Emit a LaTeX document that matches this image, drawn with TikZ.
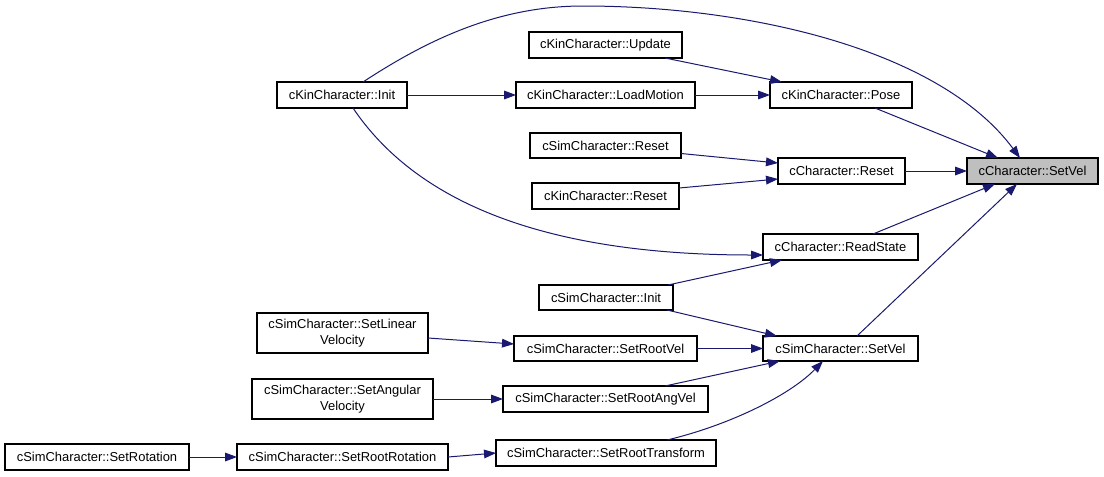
\documentclass[tikz,border=0pt]{standalone}
\usepackage{fontspec}
\setmainfont{Liberation Sans}
\usetikzlibrary{arrows.meta,calc}
\definecolor{edgeblue}{HTML}{191970}
\definecolor{hilite}{HTML}{BFBFBF}
\newcommand\mkbox[7][]{%
  \pgfmathsetmacro\bw{(#4-#2)*0.75}%
  \pgfmathsetmacro\bh{(#5-#3)*0.75}%
  \node[fn,#1,minimum width=\bw pt,minimum height=\bh pt] (#6) at ({(#2+#4)/2},{(#3+#5)/2}) {#7};}
\begin{document}
\begin{tikzpicture}[x=0.75pt,y=-0.75pt,
  fn/.style={draw=black,line width=0.8pt,fill=white,inner sep=0pt,outer sep=0pt,
    align=center,font=\fontsize{9.7}{11.5}\selectfont},
  call/.style={draw=edgeblue,line width=0.75pt,
    -{Triangle[length=9pt,width=6.5pt,fill=edgeblue]}}]
\useasboundingbox (0,0) rectangle (1104,476);
\fill[white] (0,0) rectangle (1104,476);
% nodes
\mkbox[fill=hilite]{967}{158}{1098}{184}{sv}{cCharacter::SetVel}
\mkbox{277}{82}{407}{108}{kinit}{cKinCharacter::Init}
\mkbox{529}{32}{682}{58}{upd}{cKinCharacter::Update}
\mkbox{516}{82}{695}{108}{lm}{cKinCharacter::LoadMotion}
\mkbox{770}{82}{912}{108}{pose}{cKinCharacter::Pose}
\mkbox{530}{133}{681}{158}{sreset}{cSimCharacter::Reset}
\mkbox{532}{183}{679}{209}{kreset}{cKinCharacter::Reset}
\mkbox{778}{158}{905}{184}{creset}{cCharacter::Reset}
\mkbox{763}{234}{918}{260}{rs}{cCharacter::ReadState}
\mkbox{539}{285}{673}{310}{sinit}{cSimCharacter::Init}
\mkbox{257}{313}{428}{353}{slv}{cSimCharacter::SetLinear\\Velocity}
\mkbox{514}{336}{697}{361}{srv}{cSimCharacter::SetRootVel}
\mkbox{763}{336}{918}{361}{ssv}{cSimCharacter::SetVel}
\mkbox{252}{379}{433}{419}{sav}{cSimCharacter::SetAngular\\Velocity}
\mkbox{503}{386}{708}{412}{srav}{cSimCharacter::SetRootAngVel}
\mkbox{5}{444}{189}{470}{srot}{cSimCharacter::SetRotation}
\mkbox{237}{444}{448}{470}{srr}{cSimCharacter::SetRootRotation}
\mkbox{496}{440}{716}{466}{srt}{cSimCharacter::SetRootTransform}
% edges
\draw[call] ($(kinit.north)+(21,0)$) .. controls +(67,-44) and +(-83,0) .. (583,6)
  .. controls +(167,0) and ($(sv.north)+(-92.5,-108)$) .. ($(sv.north)+(-12.5,0)$);
\draw[call] (kinit.east) -- (lm.west);
\draw[call] ($(kinit.south)+(11,0)$) .. controls +(62,92) and +(-223,0) .. ($(rs.west)+(0,8)$);
\draw[call] ($(upd.south east)+(-17,0)$) -- ($(pose.north west)+(12,0)$);
\draw[call] (lm.east) -- (pose.west);
\draw[call] ($(pose.south)+(34,0)$) -- ($(sv.north)+(-34.5,0)$);
\draw[call] ($(sreset.east)+(0,8)$) -- ($(creset.west)+(0,-8)$);
\draw[call] ($(kreset.east)+(0,-8)$) -- ($(creset.west)+(0,8)$);
\draw[call] (creset.east) -- (sv.west);
\draw[call] ($(rs.north)+(32.5,0)$) -- ($(sv.south)+(-37.5,0)$);
\draw[call] ($(sinit.north east)+(-5,0)$) -- ($(rs.south west)+(19,0)$);
\draw[call] ($(sinit.south east)+(-6,0)$) -- ($(ssv.north west)+(14,0)$);
\draw[call] ($(ssv.north)+(16.5,0)$) -- ($(sv.south)+(-15.5,0)$);
\draw[call] ($(slv.east)+(0,5)$) -- ($(srv.west)+(0,-4.5)$);
\draw[call] (srv.east) -- (ssv.west);
\draw[call] (sav.east) -- (srav.west);
\draw[call] ($(srav.north)+(59.5,0)$) -- ($(ssv.south west)+(17,0)$);
\draw[call] (srot.east) -- (srr.west);
\draw[call] (srr.east) -- (srt.west);
\draw[call] ($(srt.north)+(61,0)$) .. controls +(63,-15) and +(-33,34) .. ($(ssv.south)+(-17.5,0)$);
\end{tikzpicture}
\end{document}
